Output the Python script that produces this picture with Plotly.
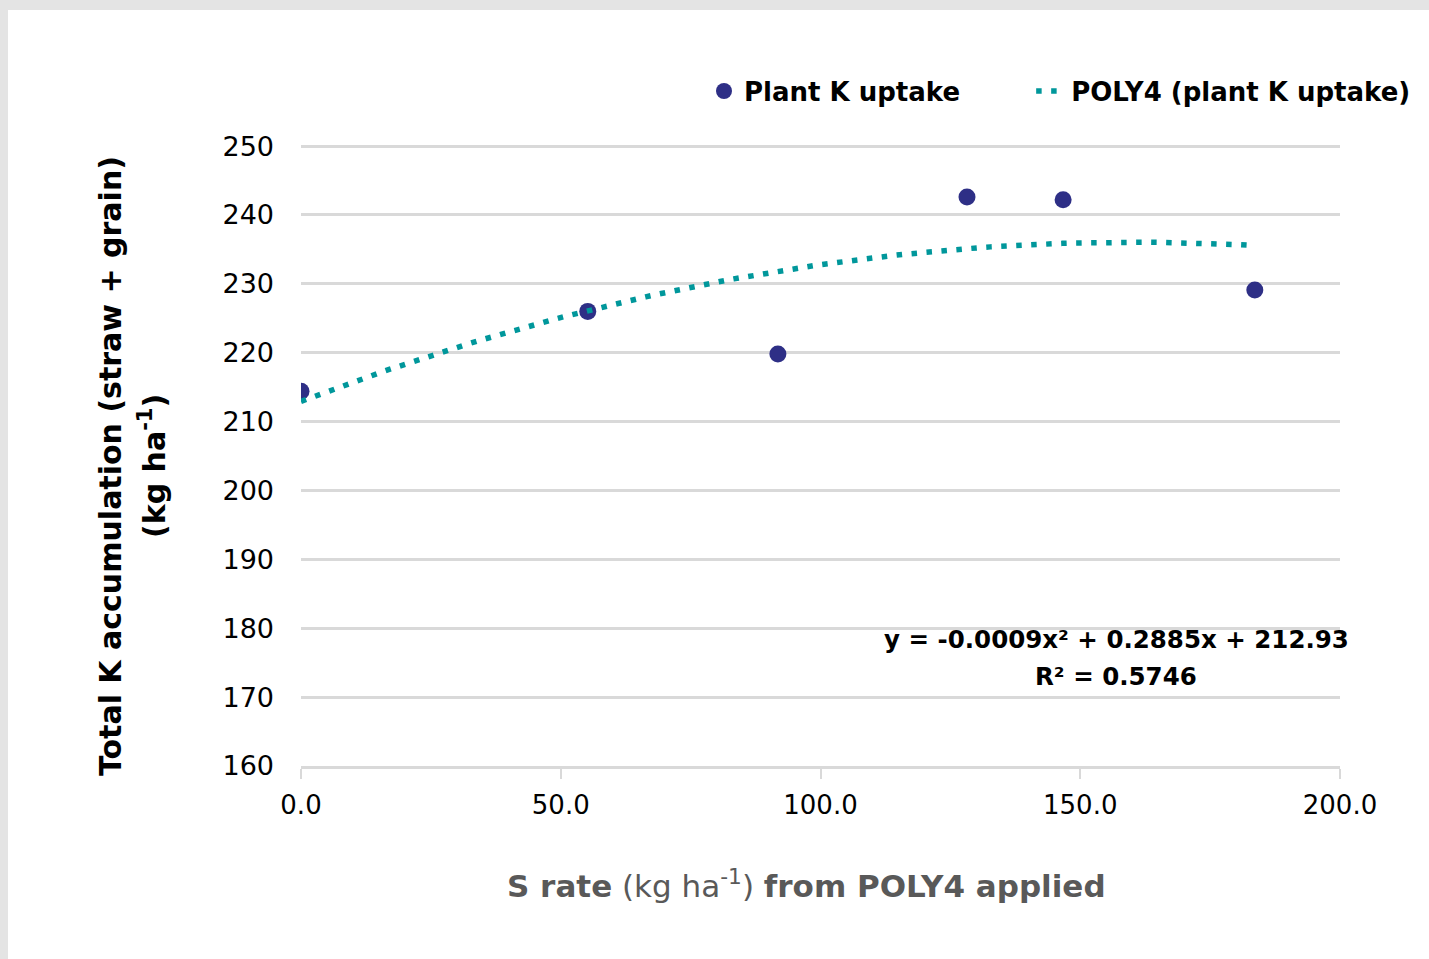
import numpy as np
import plotly.graph_objects as go

# ---- data ----
s_rate = [0.0, 55.2, 91.8, 128.2, 146.7, 183.6]
k_uptake = [214.4, 226.0, 219.8, 242.6, 242.2, 229.1]
trend_coeffs = [-0.0009, 0.2885, 212.93]  # displayed trendline y = a x^2 + b x + c
x_ticks = [0, 50, 100, 150, 200]
x_tick_labels = ["0.0", "50.0", "100.0", "150.0", "200.0"]
y_ticks = [160, 170, 180, 190, 200, 210, 220, 230, 240, 250]

FONT = "DejaVu Sans"
W, H = 1429, 959
Y_TOP = 250.3
PPU = 620 / 90.0
L, R, B = 301, 89, 193
T = 146 - (Y_TOP - 250) * PPU
PW, PH = W - L - R, H - T - B


def px_x(p):
    return (p - L) / PW


def px_y(p):
    return (H - B - p) / PH


x_fit = np.linspace(min(s_rate), max(s_rate), 120)
y_fit = np.polyval(trend_coeffs, x_fit)

NBSP = "\u00a0"

fig = go.Figure()
fig.add_trace(go.Scatter(
    x=s_rate, y=k_uptake, mode="markers",
    name="<b>Plant K uptake</b>" + NBSP * 8,
    marker=dict(color="#2E2F86", size=17),
))
fig.add_trace(go.Scatter(
    x=x_fit, y=y_fit, mode="lines", name="<b>POLY4 (plant K uptake)</b>",
    line=dict(color="#00979B", width=5.5, dash="5.5px,9.5px"),
))

fig.update_layout(
    width=W, height=H,
    margin=dict(l=L, r=R, t=T, b=B, pad=0, autoexpand=False),
    paper_bgcolor="#E4E4E4",
    plot_bgcolor="white",
    font=dict(family=FONT, color="black", size=26),
    showlegend=True,
    legend=dict(
        orientation="h", x=px_x(704), xanchor="left", y=px_y(91), yanchor="middle",
        font=dict(family=FONT, size=26, color="black"),
        bgcolor="rgba(0,0,0,0)", traceorder="normal",
    ),
    xaxis=dict(
        range=[0, 200], tickvals=x_ticks, ticktext=x_tick_labels,
        showgrid=False, zeroline=False,
        showline=True, linecolor="#D9D9D9", linewidth=2.5,
        ticks="outside", ticklen=10, tickwidth=2, tickcolor="#D9D9D9",
        tickfont=dict(family=FONT, size=26, color="black"),
        ticklabelstandoff=4,
    ),
    yaxis=dict(
        range=[160, Y_TOP], tickvals=y_ticks,
        showgrid=True, gridcolor="#D9D9D9", gridwidth=2.5,
        zeroline=False, showline=False, ticks="",
        tickfont=dict(family=FONT, size=27, color="black"),
        ticklabelstandoff=26,
    ),
    shapes=[dict(
        type="rect", xref="paper", yref="paper", layer="below",
        x0=px_x(8), x1=px_x(W + 5), y0=px_y(H + 5), y1=px_y(10),
        fillcolor="white", line=dict(width=0),
    )],
    annotations=[
        dict(
            text="<b>Total K accumulation (straw + grain)</b>",
            xref="paper", yref="paper", x=px_x(110), y=px_y(466),
            textangle=-90, showarrow=False, xanchor="center", yanchor="middle",
            font=dict(family=FONT, size=30, color="black"),
        ),
        dict(
            text="<b>(kg ha<sup>-1</sup>)</b>",
            xref="paper", yref="paper", x=px_x(152), y=px_y(466),
            textangle=-90, showarrow=False, xanchor="center", yanchor="middle",
            font=dict(family=FONT, size=30, color="black"),
        ),
        dict(
            text="<b>S rate</b> (kg ha<sup>-1</sup>) <b>from POLY4 applied</b>",
            xref="paper", yref="paper", x=px_x(806), y=px_y(884),
            showarrow=False, xanchor="center", yanchor="middle",
            font=dict(family=FONT, size=31, color="#595959"),
        ),
        dict(
            text="<b>y = -0.0009x² + 0.2885x + 212.93</b>",
            xref="paper", yref="paper", x=px_x(1116), y=px_y(639),
            showarrow=False, xanchor="center", yanchor="middle",
            font=dict(family=FONT, size=24.5, color="black"),
        ),
        dict(
            text="<b>R² = 0.5746</b>",
            xref="paper", yref="paper", x=px_x(1116), y=px_y(676),
            showarrow=False, xanchor="center", yanchor="middle",
            font=dict(family=FONT, size=24.5, color="black"),
        ),
    ],
)

fig.write_html(
    "out.html",
    config={"displayModeBar": False},
    post_script="document.body.style.margin='0';",
)
